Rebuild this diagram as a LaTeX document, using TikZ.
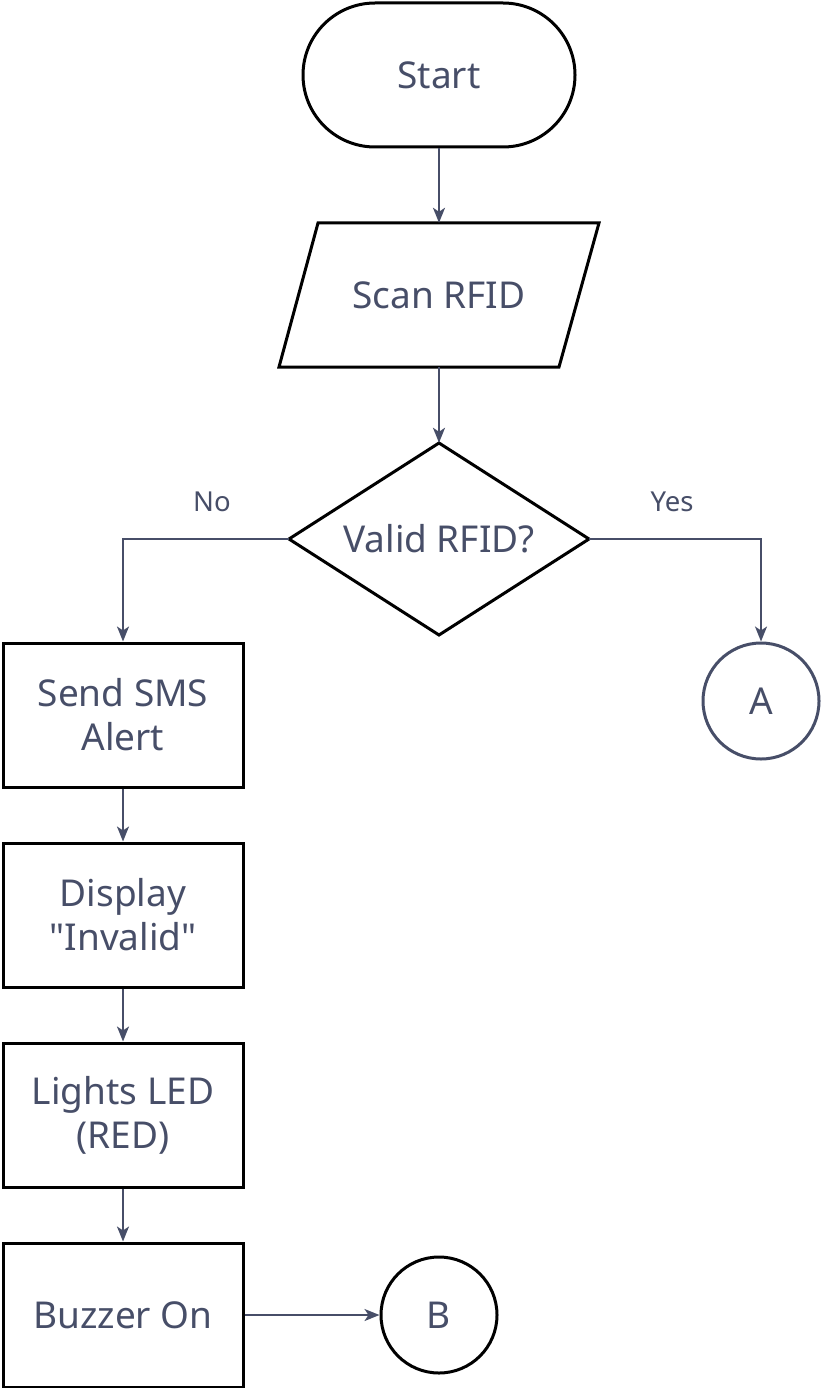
\documentclass[tikz,border=0pt]{standalone}
\usepackage{fontspec}
\newfontfamily\mainf{Noto Sans}
\usetikzlibrary{arrows.meta,shapes.geometric}
\definecolor{ink}{HTML}{474E68}
\begin{document}
\begin{tikzpicture}[x=1pt,y=-1pt,
  txt/.style={text=ink,font=\mainf\fontsize{37}{44}\selectfont,align=center},
  lbl/.style={text=ink,font=\mainf\fontsize{27.5}{32}\selectfont},
  boxnode/.style={txt,draw=black,line width=3pt,minimum width=240pt,minimum height=144pt,inner sep=0pt},
  ghost/.style={txt,minimum width=#1,inner sep=0pt},
  conn/.style={draw=ink,line width=2pt,-{Stealth[length=15pt,width=12pt,inset=4pt]}},
  circ/.style={txt,circle,minimum size=116pt,inner sep=0pt,line width=3pt}
]
\useasboundingbox (0,0) rectangle (820,1388);
% Start
\node[txt,draw=black,line width=3pt,rounded corners=72pt,minimum width=272pt,minimum height=144pt,inner sep=0pt] (start) at (439,75) {Start};
% Scan RFID parallelogram
\node[ghost=320pt,minimum height=144pt] (scan) at (439,295) {Scan RFID};
\draw[black,line width=3pt,line join=miter] (318,223) -- (599,223) -- (559,367) -- (279,367) -- cycle;
% Decision
\node[ghost=300pt,minimum height=192pt] (dec) at (439,539) {Valid RFID?};
\draw[black,line width=3pt,line join=miter] (289,539) -- (439,443) -- (589,539) -- (439,635) -- cycle;
% Boxes
\node[boxnode] (sms) at (123,715) {Send SMS\\Alert};
\node[boxnode] (disp) at (123,915) {Display\\"Invalid"};
\node[boxnode] (led) at (123,1115) {Lights LED\\(RED)};
\node[boxnode] (buzz) at (123,1315) {Buzzer On};
% Connectors circles
\node[circ,draw=ink] (A) at (761,701) {A};
\node[circ,draw=black] (B) at (439,1315) {B};
% Arrows
\draw[conn] (start.south) -- (scan.north);
\draw[conn] (scan.south) -- (dec.north);
\draw[conn] (dec.west) -| (sms.north);
\draw[conn] (dec.east) -| (A.north);
\draw[conn] (sms.south) -- (disp.north);
\draw[conn] (disp.south) -- (led.north);
\draw[conn] (led.south) -- (buzz.north);
\draw[conn] (buzz.east) -- (B.west);
% Labels
\node[lbl] (no) at (212,502) {No};
\node[lbl] (yes) at (672,502) {Yes};
\end{tikzpicture}
\end{document}
